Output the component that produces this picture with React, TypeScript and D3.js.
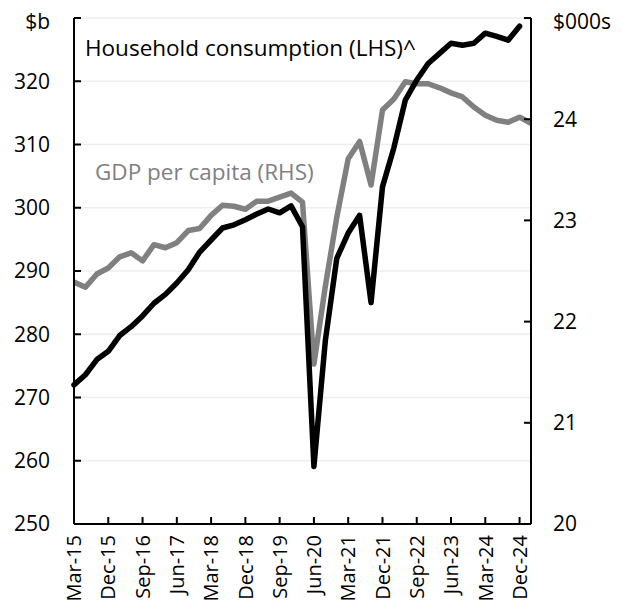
import React from "react";
import * as d3 from "d3";

// quarterly categories, Mar-15 .. Mar-25
const quarters = d3
  .timeMonth.range(new Date(2015, 2, 1), new Date(2025, 3, 1), 3)
  .map(d3.timeFormat("%b-%y"));

const tickLabels = [
  "Mar-15", "Dec-15", "Sep-16", "Jun-17", "Mar-18", "Dec-18", "Sep-19",
  "Jun-20", "Mar-21", "Dec-21", "Sep-22", "Jun-23", "Mar-24", "Dec-24",
];

// household consumption, $b (LHS), Mar-15 .. Dec-24
const consumption = [
  272.0, 273.6, 276.0, 277.3, 279.8, 281.2, 282.9, 284.9, 286.3, 288.1,
  290.2, 293.0, 294.9, 296.8, 297.3, 298.1, 299.0, 299.8, 299.2, 300.3,
  297.0, 259.1, 279.0, 292.0, 296.0, 298.8, 285.0, 303.3, 309.5, 317.0,
  320.2, 322.8, 324.4, 326.0, 325.7, 326.0, 327.6, 327.1, 326.5, 328.7,
];

// GDP per capita, $000s (RHS), Mar-15 .. Mar-25
const gdpPerCapita = [
  22.39, 22.34, 22.47, 22.53, 22.64, 22.68, 22.60, 22.76, 22.73, 22.78,
  22.90, 22.92, 23.05, 23.15, 23.14, 23.11, 23.19, 23.19, 23.23, 23.27,
  23.18, 21.58, 22.35, 23.03, 23.61, 23.78, 23.35, 24.09, 24.20, 24.37,
  24.35, 24.35, 24.31, 24.26, 24.22, 24.12, 24.04, 23.99, 23.97, 24.02,
  23.96,
];

const leftTicks = [250, 260, 270, 280, 290, 300, 310, 320, 330];
const rightTicks = [20, 21, 22, 23, 24, 25];

const App = () => {
  const width = 623;
  const height = 603;
  const left = 74, right = 531, top = 18, bottom = 524;
  const font = "'Open Sans', sans-serif";

  const x = d3.scalePoint<string>().domain(quarters).range([left, right]);
  const yL = d3.scaleLinear().domain([250, 330]).range([bottom, top]);
  const yR = d3.scaleLinear().domain([20, 25]).range([bottom, top]);

  const lineL = d3
    .line<number>()
    .x((d, i) => x(quarters[i]) as number)
    .y(d => yL(d));
  const lineR = d3
    .line<number>()
    .x((d, i) => x(quarters[i]) as number)
    .y(d => yR(d));

  return (
    <svg width={width} height={height} style={{position: "absolute", left: 0, top: 0, background: "#fff"}}
         fontFamily={font}>
      {/* gridlines */}
      {leftTicks.slice(1).map(t => (
        <line key={"g" + t} x1={left} x2={right} y1={yL(t)} y2={yL(t)} stroke="#eeeeee" strokeWidth={1.5}/>
      ))}

      {/* lines */}
      <path d={lineR(gdpPerCapita) || ""} fill="none" stroke="#808080" strokeWidth={5.5} strokeLinejoin="round"/>
      <path d={lineL(consumption) || ""} fill="none" stroke="#000" strokeWidth={5.5} strokeLinejoin="round"
            strokeLinecap="round"/>

      {/* axes */}
      <line x1={left} x2={left} y1={top} y2={bottom} stroke="#000" strokeWidth={2}/>
      <line x1={right} x2={right} y1={top} y2={bottom} stroke="#000" strokeWidth={2}/>
      <line x1={left} x2={right} y1={bottom} y2={bottom} stroke="#000" strokeWidth={2}/>

      {leftTicks.map(t => (
        <g key={"l" + t}>
          <line x1={left} x2={left + 7} y1={yL(t)} y2={yL(t)} stroke="#000" strokeWidth={2}/>
          {t !== 330 && (
            <text x={50} y={yL(t)} dy="0.35em" textAnchor="end" fontSize={21}>{t}</text>
          )}
        </g>
      ))}
      {rightTicks.map(t => (
        <g key={"r" + t}>
          <line x1={right - 7} x2={right} y1={yR(t)} y2={yR(t)} stroke="#000" strokeWidth={2}/>
          {t !== 25 && (
            <text x={553} y={yR(t)} dy="0.35em" fontSize={21}>{t}</text>
          )}
        </g>
      ))}
      {tickLabels.map(q => {
        const xp = x(q) as number;
        return (
          <g key={"x" + q}>
            <line x1={xp} x2={xp} y1={bottom - 7} y2={bottom} stroke="#000" strokeWidth={2}/>
            <text transform={`translate(${xp},${bottom + 11}) rotate(-90)`} dy="0.36em" textAnchor="end"
                  fontSize={20}>{q}</text>
          </g>
        );
      })}

      {/* axis titles */}
      <text x={50} y={22} dy="0.35em" textAnchor="end" fontSize={21}>$b</text>
      <text x={553} y={22} dy="0.35em" fontSize={21}>$000s</text>

      {/* series labels */}
      <text x={85} y={56} fontSize={22.5}>Household consumption (LHS)^</text>
      <text x={95} y={180} fontSize={22.5} fill="#808080">GDP per capita (RHS)</text>
    </svg>
  );
};

export default App;
